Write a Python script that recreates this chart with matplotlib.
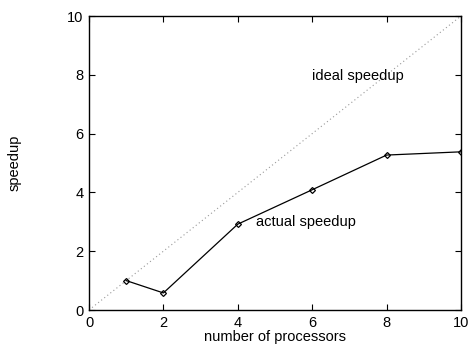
import matplotlib
matplotlib.use("Agg")
import matplotlib.pyplot as plt

processors = [1, 2, 4, 6, 8, 10]
speedup = [1.0, 0.58, 2.92, 4.09, 5.27, 5.38]
ideal = [0, 10]

plt.rcParams['font.family'] = ['Liberation Sans', 'DejaVu Sans']
plt.rcParams['font.size'] = 10.5

fig = plt.figure(figsize=(4.71, 3.5), dpi=100)
ax = fig.add_axes([89 / 471, 40 / 350, 372 / 471, 294 / 350])

ax.plot(ideal, ideal, color='#999999', linestyle=(0, (1, 2.5)), linewidth=0.8)
ax.plot(processors, speedup, color='black', linewidth=0.9,
        marker='D', markersize=3, markerfacecolor='none', markeredgewidth=0.9)

ax.text(6.0, 7.96, 'ideal speedup', va='center', ha='left')
ax.text(4.5, 3.0, 'actual speedup', va='center', ha='left')

ax.set_xlim(0, 10)
ax.set_ylim(0, 10)
ax.set_xticks([0, 2, 4, 6, 8, 10])
ax.set_yticks([0, 2, 4, 6, 8, 10])
ax.tick_params(direction='in', top=True, right=True, length=4, width=0.8, pad=4)
for s in ax.spines.values():
    s.set_linewidth(1.0)

ax.set_xlabel('number of processors', labelpad=0)
ax.set_ylabel('speedup')
ax.yaxis.set_label_coords(-0.18, 0.5)

fig.savefig('out.png', dpi=100)
